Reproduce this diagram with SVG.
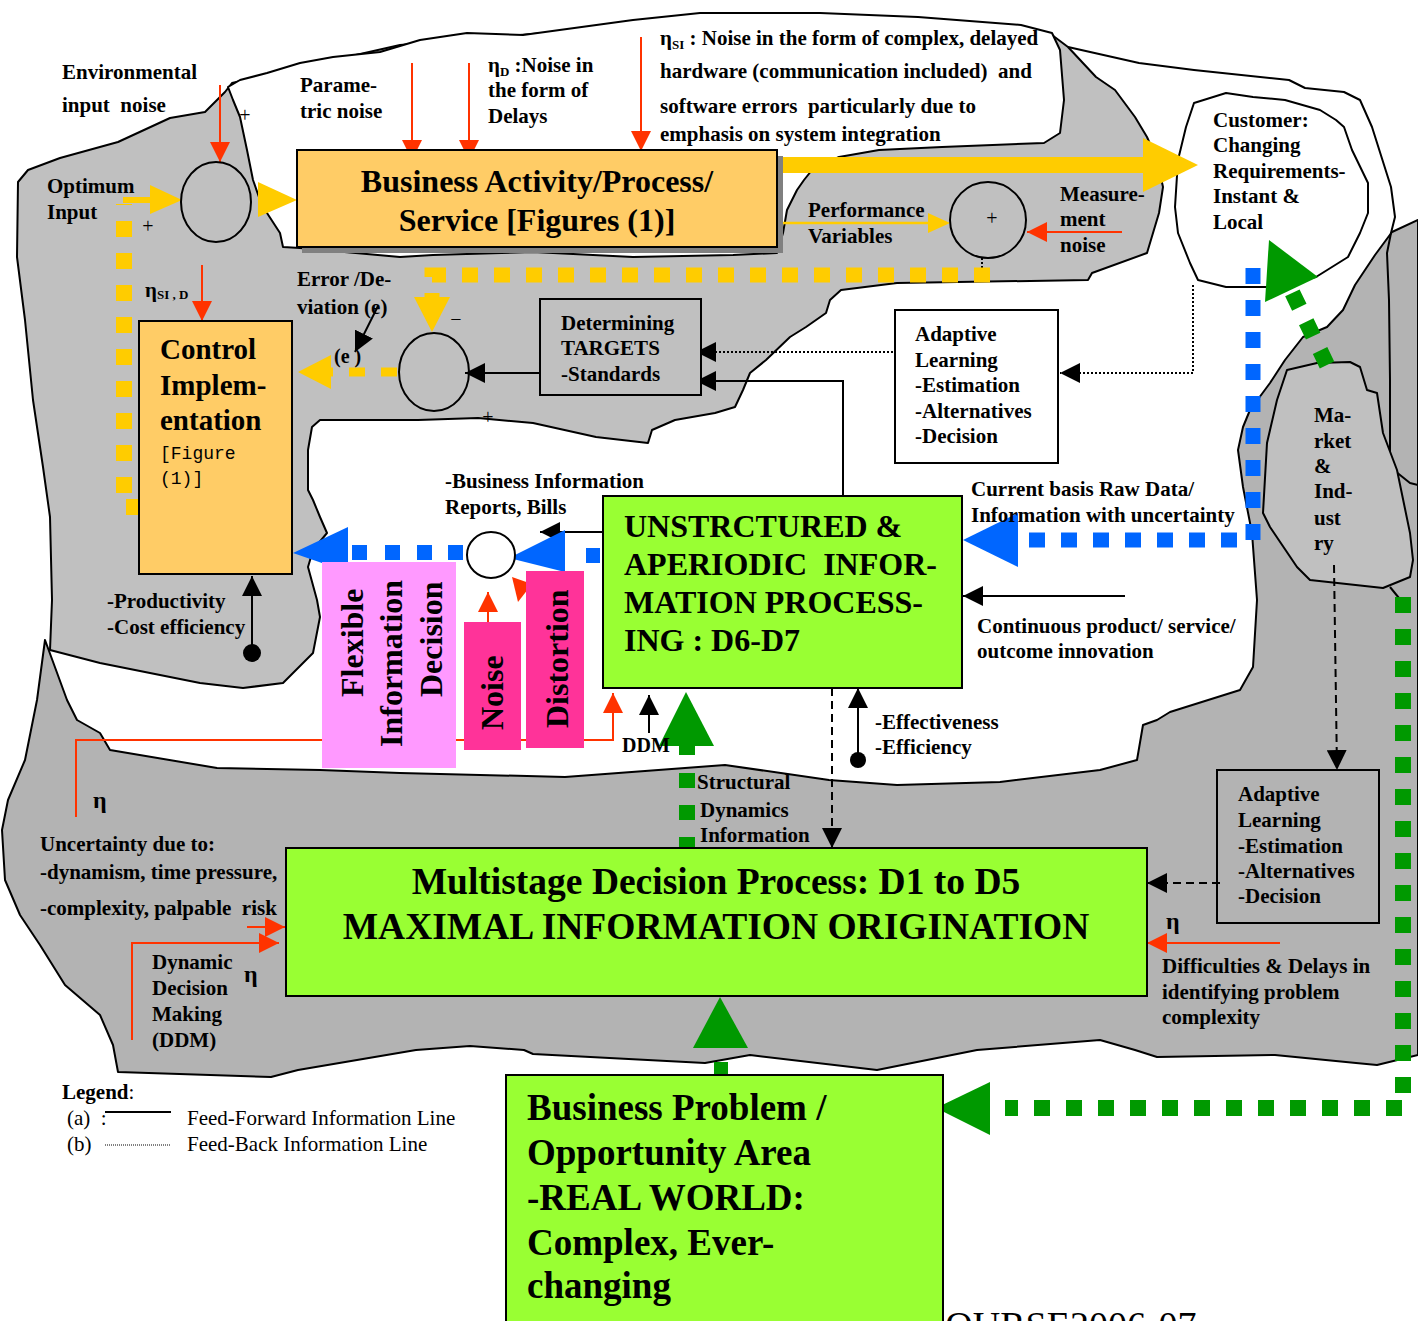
<svg xmlns="http://www.w3.org/2000/svg" width="1418" height="1321" viewBox="0 0 1418 1321">
<defs>
<style>
.t{font-family:"Liberation Serif","Times New Roman",serif;font-weight:bold;font-size:21px;fill:#000}
.b32{font-size:32px}
.b37{font-size:37px}
.b375{font-size:37.5px}
.b29{font-size:29px}
.s20{font-size:20px}
.s17{font-size:20px}
.s38{font-size:38px}
.reg{font-weight:normal}
.mono{font-family:"Liberation Mono","Courier New",monospace;font-weight:normal;font-size:18px}
.sub{font-size:13px}
.eta{font-size:24px}
.edge{stroke:#000;stroke-width:2;stroke-linejoin:round}
.red{stroke:#ff3300;stroke-width:2;fill:none}
.blk{stroke:#000;stroke-width:2;fill:none}
.dot{stroke-dasharray:2 2}
.dash{stroke-dasharray:8 5}
.ydash{stroke:#ffcc00;fill:none;stroke-dasharray:16 16}
.bdash{stroke:#0066ff;fill:none;stroke-width:15;stroke-dasharray:16 16}
.gdash{stroke:#009900;fill:none;stroke-width:16;stroke-dasharray:16 16}
.box{stroke:#000;stroke-width:2}
</style>
<marker id="ar" markerUnits="userSpaceOnUse" markerWidth="20" markerHeight="20" refX="20" refY="10" orient="auto"><path d="M0,0 L20,10 L0,20 Z" fill="#ff3300"/></marker>
<marker id="ab" markerUnits="userSpaceOnUse" markerWidth="20" markerHeight="20" refX="20" refY="10" orient="auto"><path d="M0,0 L20,10 L0,20 Z" fill="#000"/></marker>
</defs>
<rect width="1418" height="1321" fill="#fff"/>

<g id="background">
<path class="edge" fill="#b3b3b3" d="M1418,220 L1392,232 L1375,255 L1355,285 L1343,310 L1327,327 L1303,337 L1285,360 L1270,383 L1250,410 L1243,427 L1238,450 L1243,487 L1252,533 L1257,600 L1253,667 L1240,690 L1170,712 L1157,720 L1143,725 L1137,760 L1100,770 L1000,782 L897,785 L829,780 L725,765 L565,777 L400,773 L320,770 L217,768 L110,750 L100,733 L77,720 L67,700 L45,640 L37,700 L25,760 L8,800 L2,830 L5,880 L20,915 L40,945 L65,985 L100,1015 L113,1045 L118,1072 L271,1077 L298,1070 L416,1050 L470,1046 L524,1050 L533,1054 L705,1063 L750,1055 L877,1070 L977,1050 L1100,1040 L1135,1050 L1157,1057 L1275,1055 L1356,1063 L1377,1065 L1418,1055 Z"/>
<path class="edge" fill="#c0c0c0" d="M50,650 L52,600 L50,517 L43,467 L33,400 L25,320 L17,257 L18,182 L28,170 L60,158 L118,142 L170,118 L205,112 L225,92 L232,83 L400,45 L700,20 L1000,30 L1052,35 L1068,47 L1096,77 L1115,90 L1135,117 L1147,137 L1157,160 L1163,187 L1159,213 L1147,253 L1092,273 L1088,280 L897,283 L841,290 L830,300 L826,313 L806,327 L790,337 L766,360 L750,373 L743,390 L735,407 L715,413 L675,420 L652,430 L648,443 L596,437 L533,423 L478,418 L418,420 L320,420 L312,427 L308,450 L308,490 L313,500 L320,517 L327,533 L313,550 L308,567 L317,600 L320,617 L313,653 L283,683 L243,688 L200,683 L100,663 Z"/>
<path class="edge" fill="#fff" d="M228,87 L240,80 L267,73 L300,63 L333,57 L380,52 L420,40 L467,33 L523,35 L633,20 L700,13 L820,13 L918,17 L1021,25 L1052,33 L1060,50 L1064,100 L1060,133 L1044,143 L942,147 L879,150 L839,157 L812,170 L804,180 L797,190 L787,210 L783,233 L777,253 L733,255 L633,257 L533,252 L433,255 L400,257 L300,248 L283,247 L280,233 L267,213 L260,200 L253,180 L247,150 L240,117 L233,100 Z"/>
<path class="edge" fill="none" d="M1068,47 L1139,63 L1194,70 L1289,80 L1305,88 L1344,92 L1360,100 L1372,127 L1391,187 L1395,217 L1391,233 L1387,253 L1389,300 L1390,380 L1390,467 L1410,483 L1418,485"/>
<path class="edge" fill="#fff" d="M1194,103 L1226,93 L1253,97 L1285,100 L1320,110 L1336,120 L1344,127 L1352,150 L1368,183 L1368,213 L1360,233 L1348,257 L1316,277 L1273,287 L1226,287 L1198,280 L1190,263 L1178,233 L1175,207 L1178,160 L1186,127 Z"/>
<path class="edge" fill="#c0c0c0" d="M1287,370 L1317,363 L1350,362 L1360,367 L1367,390 L1377,393 L1383,433 L1397,470 L1410,533 L1413,560 L1410,577 L1383,588 L1310,580 L1297,567 L1270,527 L1263,513 L1267,443 L1277,400 Z"/>
<line class="edge" x1="1390" y1="587" x2="1403" y2="603"/>
<text class="t reg s38" x="920" y="1338">COURSE2006-07</text>
</g>

<g id="connectors">
<line class="red" x1="220" y1="85" x2="220" y2="162" marker-end="url(#ar)"/>
<line class="red" x1="412" y1="63" x2="412" y2="160" marker-end="url(#ar)"/>
<line class="red" x1="469" y1="63" x2="469" y2="160" marker-end="url(#ar)"/>
<line class="red" x1="641" y1="37" x2="641" y2="151" marker-end="url(#ar)"/>
<line class="red" x1="202" y1="265" x2="202" y2="321" marker-end="url(#ar)"/>
<line class="red" x1="1122" y1="232" x2="1027" y2="232" marker-end="url(#ar)"/>
<line class="red" x1="488" y1="640" x2="488" y2="592" marker-end="url(#ar)"/>
<path class="red" d="M76,817 V740 H613 V693" marker-end="url(#ar)"/>
<line class="red" x1="247" y1="927" x2="285" y2="927" marker-end="url(#ar)"/>
<path class="red" d="M132,1040 V943 H279" marker-end="url(#ar)"/>
<line class="red" x1="1280" y1="943" x2="1147" y2="943" marker-end="url(#ar)"/>
<polygon points="512,577 532,584 518,602" fill="#ff3300"/>

<line class="blk" x1="540" y1="373" x2="465" y2="373" marker-end="url(#ab)"/>
<line class="blk dot" x1="893" y1="352" x2="696" y2="352" marker-end="url(#ab)"/>
<path class="blk" d="M843,495 V381 H696" marker-end="url(#ab)"/>
<path class="blk dot" d="M1193,285 V373 H1060" marker-end="url(#ab)"/>
<line class="blk" x1="1125" y1="596" x2="963" y2="596" marker-end="url(#ab)"/>
<line class="blk" x1="858" y1="760" x2="858" y2="688" marker-end="url(#ab)"/>
<circle cx="858" cy="760" r="8" fill="#000"/>
<line class="blk dash" x1="832" y1="688" x2="832" y2="848" marker-end="url(#ab)"/>
<line class="blk" x1="649" y1="733" x2="649" y2="695" marker-end="url(#ab)"/>
<line class="blk" x1="603" y1="532" x2="540" y2="532" marker-end="url(#ab)"/>
<line class="blk" x1="252" y1="653" x2="252" y2="576" marker-end="url(#ab)"/>
<circle cx="252" cy="653" r="9" fill="#000"/>
<line class="blk dash" x1="1334" y1="565" x2="1337" y2="770" marker-end="url(#ab)"/>
<line class="blk dash" x1="1220" y1="883" x2="1147" y2="883" marker-end="url(#ab)"/>
<line class="blk" x1="378" y1="306" x2="355" y2="352" marker-end="url(#ab)"/>
<line class="blk dot" x1="982" y1="258" x2="982" y2="268"/>

<line x1="123" y1="200" x2="152" y2="200" stroke="#ffcc00" stroke-width="6"/>
<polygon points="150,185 182,200 150,214" fill="#ffcc00"/>
<polygon points="258,182 297,200 258,217" fill="#ffcc00"/>
<rect x="777" y="157" width="367" height="16" fill="#ffcc00"/>
<polygon points="1143,138 1198,165 1143,192" fill="#ffcc00"/>
<line x1="777" y1="223" x2="930" y2="223" stroke="#ffcc00" stroke-width="2.5"/>
<polygon points="928,213 950,223 928,233" fill="#ffcc00"/>
<path class="ydash" stroke-width="15" d="M990,275 H432 V297"/>
<polygon points="414,297 450,297 432,332" fill="#ffcc00"/>
<path class="ydash" stroke-width="9" stroke-dasharray="8 4" d="M397,372 H331"/>
<polygon points="331,355 298,372 331,389" fill="#ffcc00"/>
<path class="ydash" stroke-width="16" d="M142,507 H124 V204"/>

<path class="bdash" d="M1253,268 V540 H1018"/>
<polygon points="1018,513 963,540 1018,567" fill="#0066ff"/>
<rect x="586" y="548" width="14" height="15" fill="#0066ff"/>
<polygon points="565,530 509,558 565,572" fill="#0066ff"/>
<rect x="352" y="545" width="15" height="15" fill="#0066ff"/>
<rect x="385" y="545" width="15" height="15" fill="#0066ff"/>
<rect x="417" y="545" width="15" height="15" fill="#0066ff"/>
<rect x="448" y="545" width="15" height="15" fill="#0066ff"/>
<polygon points="348,527 293,553 348,572" fill="#0066ff"/>

<path class="gdash" d="M1403,597 V1108 H1005"/>
<polygon points="990,1082 936,1108 990,1135" fill="#009900"/>
<line class="gdash" x1="1327" y1="365" x2="1291" y2="290"/>
<polygon points="1269,240 1265,302 1318,277" fill="#009900"/>
<polygon points="720,997 693,1048 748,1048" fill="#009900"/>
<rect x="714" y="1062" width="14" height="15" fill="#009900"/>
<polygon points="686,692 659,746 714,746" fill="#009900"/>
<rect x="679" y="745" width="16" height="10" fill="#009900"/>
<rect x="679" y="773" width="16" height="15" fill="#009900"/>
<rect x="679" y="805" width="16" height="15" fill="#009900"/>
<rect x="679" y="837" width="16" height="11" fill="#009900"/>
</g>

<g id="sum-input">
<ellipse cx="216" cy="202" rx="35" ry="40" fill="none" class="box"/>
</g>
<g id="sum-performance">
<ellipse cx="988" cy="220" rx="38" ry="38" fill="none" class="box"/>
<text class="t reg s17" x="992" y="225" text-anchor="middle">+</text>
</g>
<g id="sum-error">
<ellipse cx="434" cy="372" rx="35" ry="39" fill="none" class="box"/>
<text class="t reg s17" x="456" y="326" text-anchor="middle">−</text>
<text class="t reg s17" x="488" y="424" text-anchor="middle">+</text>
</g>
<g id="sum-info">
<ellipse cx="491" cy="555" rx="24" ry="23" fill="#fff" class="box"/>
</g>

<g id="business-activity">
<rect x="302" y="156" width="481" height="97" fill="#808080"/>
<rect x="297" y="150" width="480" height="97" fill="#ffcc66" class="box"/>
<text class="t b32" x="537" y="192" text-anchor="middle">Business Activity/Process/</text>
<text class="t b32" x="537" y="231" text-anchor="middle">Service [Figures (1)]</text>
</g>

<g id="control-implementation">
<rect x="139" y="321" width="153" height="253" fill="#ffcc66" class="box"/>
<text class="t b29" x="160" y="359">Control</text>
<text class="t b29" x="160" y="395">Implem-</text>
<text class="t b29" x="160" y="430">entation</text>
<text class="mono" x="160" y="459">[Figure</text>
<text class="mono" x="160" y="484">(1)]</text>
</g>

<g id="determining-targets">
<rect x="540" y="299" width="161" height="96" fill="#c0c0c0" class="box"/>
<text class="t" x="561" y="330">Determining</text>
<text class="t" x="561" y="355">TARGETS</text>
<text class="t" x="561" y="381">-Standards</text>
</g>

<g id="adaptive-learning-upper">
<rect x="895" y="310" width="163" height="153" fill="#fff" class="box"/>
<text class="t" x="915" y="341">Adaptive</text>
<text class="t" x="915" y="367">Learning</text>
<text class="t" x="915" y="392">-Estimation</text>
<text class="t" x="915" y="418">-Alternatives</text>
<text class="t" x="915" y="443">-Decision</text>
</g>

<g id="unstructured">
<rect x="603" y="496" width="359" height="192" fill="#99ff33" class="box"/>
<text class="t b32" x="624" y="537">UNSTRCTURED &amp;</text>
<text class="t b32" x="624" y="575" xml:space="preserve">APERIODIC  INFOR-</text>
<text class="t b32" x="624" y="613">MATION PROCESS-</text>
<text class="t b32" x="624" y="651">ING : D6-D7</text>
</g>

<g id="flexible">
<rect x="322" y="562" width="134" height="206" fill="#ff99ff"/>
<text class="t b32" transform="translate(363,697) rotate(-90)">Flexible</text>
<text class="t b32" transform="translate(402,747) rotate(-90)">Information</text>
<text class="t b32" transform="translate(442,697) rotate(-90)">Decision</text>
</g>
<g id="noise">
<rect x="464" y="622" width="57" height="128" fill="#ff3399"/>
<text class="t b32" transform="translate(503,730) rotate(-90)">Noise</text>
</g>
<g id="distortion">
<rect x="526" y="571" width="58" height="177" fill="#ff3399"/>
<text class="t b32" transform="translate(568,728) rotate(-90)">Distortion</text>
</g>

<g id="multistage">
<rect x="286" y="848" width="861" height="148" fill="#99ff33" class="box"/>
<text class="t b375" x="716" y="894" text-anchor="middle">Multistage Decision Process: D1 to D5</text>
<text class="t b375" x="716" y="939" text-anchor="middle">MAXIMAL INFORMATION ORIGINATION</text>
</g>

<g id="adaptive-learning-lower">
<rect x="1217" y="770" width="162" height="153" fill="none" class="box"/>
<text class="t" x="1238" y="801">Adaptive</text>
<text class="t" x="1238" y="827">Learning</text>
<text class="t" x="1238" y="853">-Estimation</text>
<text class="t" x="1238" y="878">-Alternatives</text>
<text class="t" x="1238" y="903">-Decision</text>
</g>

<g id="business-problem">
<rect x="506" y="1075" width="437" height="262" fill="#99ff33" class="box"/>
<text class="t b37" x="527" y="1120">Business Problem /</text>
<text class="t b37" x="527" y="1165">Opportunity Area</text>
<text class="t b37" x="527" y="1210">-REAL WORLD:</text>
<text class="t b37" x="527" y="1255">Complex, Ever-</text>
<text class="t b37" x="527" y="1298">changing</text>
</g>

<g id="customer">
<text class="t" x="1213" y="127">Customer:</text>
<text class="t" x="1213" y="152">Changing</text>
<text class="t" x="1213" y="178">Requirements-</text>
<text class="t" x="1213" y="203">Instant &amp;</text>
<text class="t" x="1213" y="229">Local</text>
</g>

<g id="market">
<text class="t" x="1314" y="422">Ma-</text>
<text class="t" x="1314" y="448">rket</text>
<text class="t" x="1314" y="473">&amp;</text>
<text class="t" x="1314" y="498">Ind-</text>
<text class="t" x="1314" y="525">ust</text>
<text class="t" x="1314" y="550">ry</text>
</g>

<g id="labels">
<text class="t" x="62" y="79">Environmental</text>
<text class="t" x="62" y="112" xml:space="preserve">input  noise</text>
<text class="t reg s17" x="245" y="122" text-anchor="middle">+</text>
<text class="t" x="300" y="92">Parame-</text>
<text class="t" x="300" y="118">tric noise</text>
<text class="t" x="488" y="72">η<tspan class="sub" dy="4">D</tspan><tspan dy="-4"> :Noise in</tspan></text>
<text class="t" x="488" y="97">the form of</text>
<text class="t" x="488" y="123">Delays</text>
<text class="t" x="660" y="45">η<tspan class="sub" dy="4">SI</tspan><tspan dy="-4"> : Noise in the form of complex, delayed</tspan></text>
<text class="t" x="660" y="78" xml:space="preserve">hardware (communication included)  and</text>
<text class="t" x="660" y="113" xml:space="preserve">software errors  particularly due to</text>
<text class="t" x="660" y="141">emphasis on system integration</text>
<text class="t" x="47" y="193">Optimum</text>
<text class="t" x="47" y="219">Input</text>
<text class="t reg s17" x="148" y="233" text-anchor="middle">+</text>
<text class="t" x="145" y="297">η<tspan class="sub" dy="2">SI , D</tspan></text>
<text class="t" x="297" y="286">Error /De-</text>
<text class="t" x="297" y="314">viation (e)</text>
<text class="t s20" x="334" y="363">(e )</text>
<text class="t" x="808" y="217">Performance</text>
<text class="t" x="808" y="243">Variables</text>
<text class="t" x="1060" y="201">Measure-</text>
<text class="t" x="1060" y="226">ment</text>
<text class="t" x="1060" y="252">noise</text>
<text class="t" x="445" y="488">-Business Information</text>
<text class="t" x="445" y="514">Reports, Bills</text>
<text class="t" x="971" y="496">Current basis Raw Data/</text>
<text class="t" x="971" y="522">Information with uncertainty</text>
<text class="t" x="977" y="633">Continuous product/ service/</text>
<text class="t" x="977" y="658">outcome innovation</text>
<text class="t" x="107" y="608">-Productivity</text>
<text class="t" x="107" y="634">-Cost efficiency</text>
<text class="t" x="875" y="729">-Effectiveness</text>
<text class="t" x="875" y="754">-Efficiency</text>
<text class="t s20" x="622" y="752">DDM</text>
<text class="t" x="697" y="789">Structural</text>
<text class="t" x="700" y="817">Dynamics</text>
<text class="t" x="700" y="842">Information</text>
<text class="t eta" x="93" y="808">η</text>
<text class="t" x="40" y="851">Uncertainty due to:</text>
<text class="t" x="40" y="879">-dynamism, time pressure,</text>
<text class="t" x="40" y="915" xml:space="preserve">-complexity, palpable  risk</text>
<text class="t" x="152" y="969">Dynamic</text>
<text class="t" x="152" y="995">Decision</text>
<text class="t" x="152" y="1021">Making</text>
<text class="t" x="152" y="1047">(DDM)</text>
<text class="t eta" x="244" y="982">η</text>
<text class="t eta" x="1166" y="929">η</text>
<text class="t" x="1162" y="973">Difficulties &amp; Delays in</text>
<text class="t" x="1162" y="999">identifying problem</text>
<text class="t" x="1162" y="1024">complexity</text>
</g>

<g id="legend">
<text class="t reg" x="62" y="1099"><tspan font-weight="bold">Legend</tspan>:</text>
<text class="t reg" x="67" y="1125" xml:space="preserve">(a)  :</text>
<line x1="105" y1="1112" x2="171" y2="1112" stroke="#000" stroke-width="2"/>
<text class="t reg" x="187" y="1125">Feed-Forward Information Line</text>
<text class="t reg" x="67" y="1151">(b)</text>
<line x1="105" y1="1145" x2="171" y2="1145" stroke="#000" stroke-width="1" stroke-dasharray="1 1"/>
<text class="t reg" x="187" y="1151">Feed-Back Information Line</text>
</g>
</svg>
